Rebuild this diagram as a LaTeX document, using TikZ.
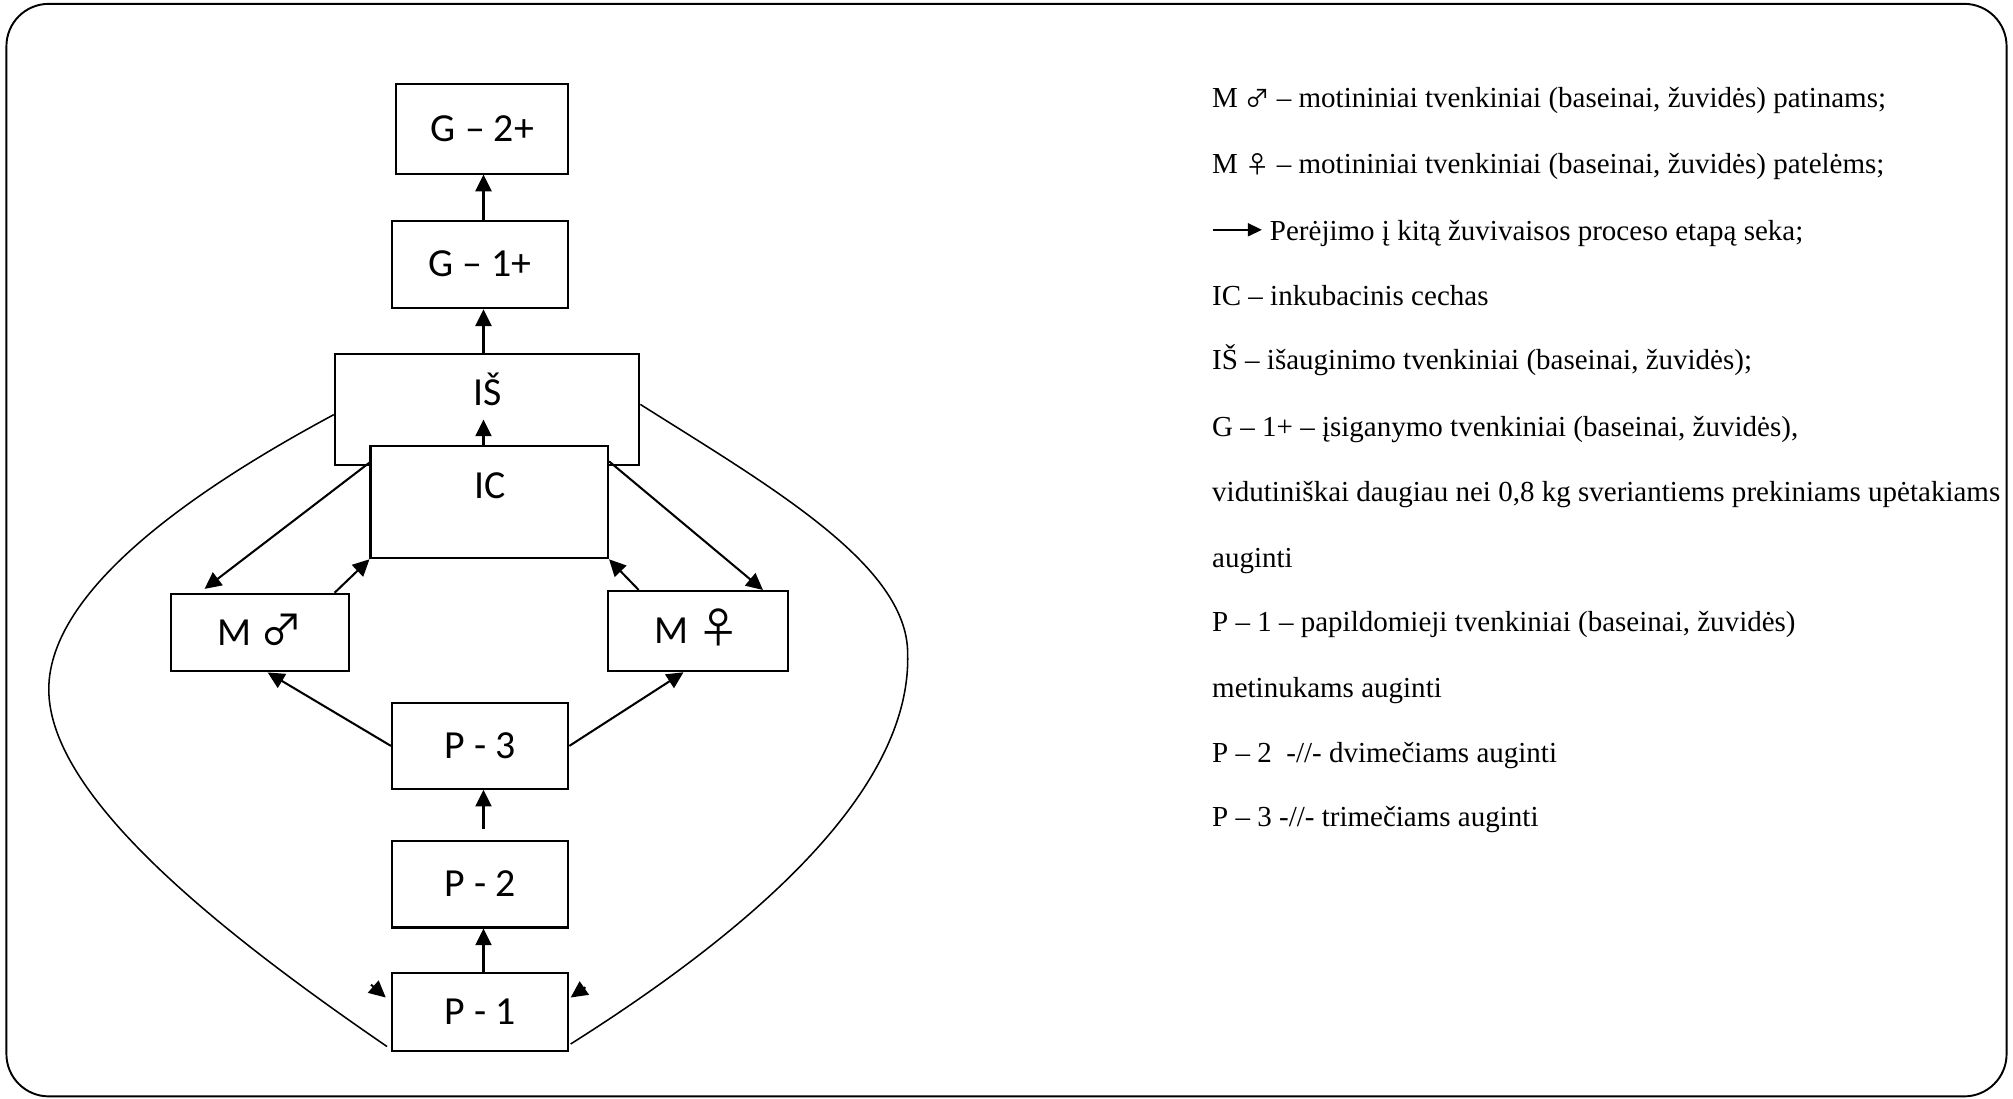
\documentclass[tikz,border=0pt]{standalone}
\usepackage{fontspec}
\setmainfont{Liberation Serif}
\newfontfamily\boxfont{Carlito}
\newfontfamily\symfont{Noto Sans CJK JP}
\usetikzlibrary{arrows.meta,calc}
\begin{document}
\begin{tikzpicture}[x=1pt,y=-1pt,
  stage/.style={draw, line width=1.6pt, fill=white, inner sep=0pt,
    font=\boxfont\fontsize{31}{36}\selectfont, text height=19.5pt, text depth=0pt},
  arr/.style={line width=1.6pt, -{Triangle[length=13pt,width=12.5pt]}},
  loopline/.style={line width=1.2pt},
  boxlabel/.style={anchor=base, inner sep=0pt, font=\boxfont\fontsize{31}{36}\selectfont},
  legend/.style={anchor=base west, inner sep=0pt, font=\fontsize{22.6}{26}\selectfont}
]
\useasboundingbox (0,0) rectangle (1568,856);
\draw[line width=1.5pt, rounded corners=33pt] (5,3) rectangle (1563,854);

% boxes
\node[stage, minimum width=134pt, minimum height=69.5pt] (G2) at (375.75,100.45) {G – 2+};
\node[stage, minimum width=137.4pt, minimum height=68.3pt] (G1) at (374,206) {G – 1+};
\node[stage, minimum width=237.2pt, minimum height=87.1pt] (IS) at (379.4,319) {};
\node[stage, minimum width=185pt, minimum height=87.7pt] (IC) at (381.1,391) {};
\node[boxlabel] (ISt) at (380,316) {IŠ};
\node[boxlabel] (ICt) at (381.5,388) {IC};
\node[stage, minimum width=138.7pt, minimum height=60.5pt] (Mm) at (202.5,492.75) {M {\symfont\fontsize{33}{36}\selectfont ♂}};
\node[stage, minimum width=140.2pt, minimum height=62.5pt] (Mf) at (543.4,491.6) {M {\symfont\fontsize{33}{36}\selectfont ♀}};
\node[stage, minimum width=137.4pt, minimum height=66.8pt] (P3) at (374,581) {P - 3};
\node[stage, minimum width=137.4pt, minimum height=67.7pt] (P2) at (374,688.6) {P - 2};
\node[stage, minimum width=137.4pt, minimum height=60.8pt] (P1) at (374,788) {P - 1};

% vertical arrows
\coordinate (ax) at (376.6,0);
\coordinate (ictip) at (376.6,326.8);
\draw[arr] (G1.north -| ax) -- (G2.south -| ax);
\draw[arr] (IS.north -| ax) -- (G1.south -| ax);
\draw[arr] (IC.north -| ax) -- (ictip);
\draw[arr] ($(P2.north -| ax)+(0,-8)$) -- (P3.south -| ax);
\draw[arr] (P1.north -| ax) -- (P2.south -| ax);

% diagonal arrows
\draw[arr] ([yshift=-14pt]IC.north west) -- ([xshift=27pt,yshift=3pt]Mm.north west);
\draw[arr] ([xshift=-12pt]Mm.north east) -- (IC.south west);
\draw[arr] ([yshift=-13pt]IC.north east) -- ([xshift=-20pt]Mf.north east);
\draw[arr] ([xshift=25pt]Mf.north west) -- (IC.south east);
\draw[arr] (P3.west) -- ([xshift=6pt]Mm.south);
\draw[arr] (P3.east) -- ([xshift=-11pt]Mf.south);

% big loops
\draw[loopline] ([yshift=-4pt]IS.west) .. controls (150,382) and (38,460) .. (38,537)
  .. controls (38,620) and (170,725) .. ([xshift=-3pt,yshift=4pt]P1.south west);
\draw[loopline] ([yshift=4pt]IS.east) .. controls (600,379) and (707,440) .. (707,509)
  .. controls (710,610) and (600,715) .. ([xshift=1pt,yshift=6pt]P1.south east);
\coordinate (lh) at (289,767);
\coordinate (rh) at (456,769);
\draw[arr] (lh) -- ([xshift=-4pt,yshift=11pt]P1.west);
\draw[arr] (rh) -- ([xshift=1pt,yshift=11pt]P1.east);

% legend
\node[legend] (l1) at (944,84) {M {\symfont\fontsize{19}{22}\selectfont ♂} – motininiai tvenkiniai (baseinai, žuvidės) patinams;};
\node[legend] (l2) at (944,135) {M {\symfont\fontsize{19}{22}\selectfont ♀} – motininiai tvenkiniai (baseinai, žuvidės) patelėms;};
\node[legend] (l3) at (989,187) {Perėjimo į kitą žuvivaisos proceso etapą seka;};
\coordinate (la0) at (945,179);
\draw[line width=1.8pt, -{Triangle[length=11pt,width=10pt]}] (la0) -- ($(l3.base west)+(-6,-8)$);
\node[legend] (l4) at (944,238) {IC – inkubacinis cechas};
\node[legend] (l5) at (944,288) {IŠ – išauginimo tvenkiniai (baseinai, žuvidės);};
\node[legend] (l6) at (944,340) {G – 1+ – įsiganymo tvenkiniai (baseinai, žuvidės),};
\node[legend] (l7) at (944,391) {vidutiniškai daugiau nei 0,8 kg sveriantiems prekiniams upėtakiams};
\node[legend] (l8) at (944,442) {auginti};
\node[legend] (l9) at (944,492) {P – 1 – papildomieji tvenkiniai (baseinai, žuvidės)};
\node[legend] (l10) at (944,543) {metinukams auginti};
\node[legend] (l11) at (944,594) {P – 2 \ -//- dvimečiams auginti};
\node[legend] (l12) at (944,644) {P – 3 -//- trimečiams auginti};
\end{tikzpicture}
\end{document}
